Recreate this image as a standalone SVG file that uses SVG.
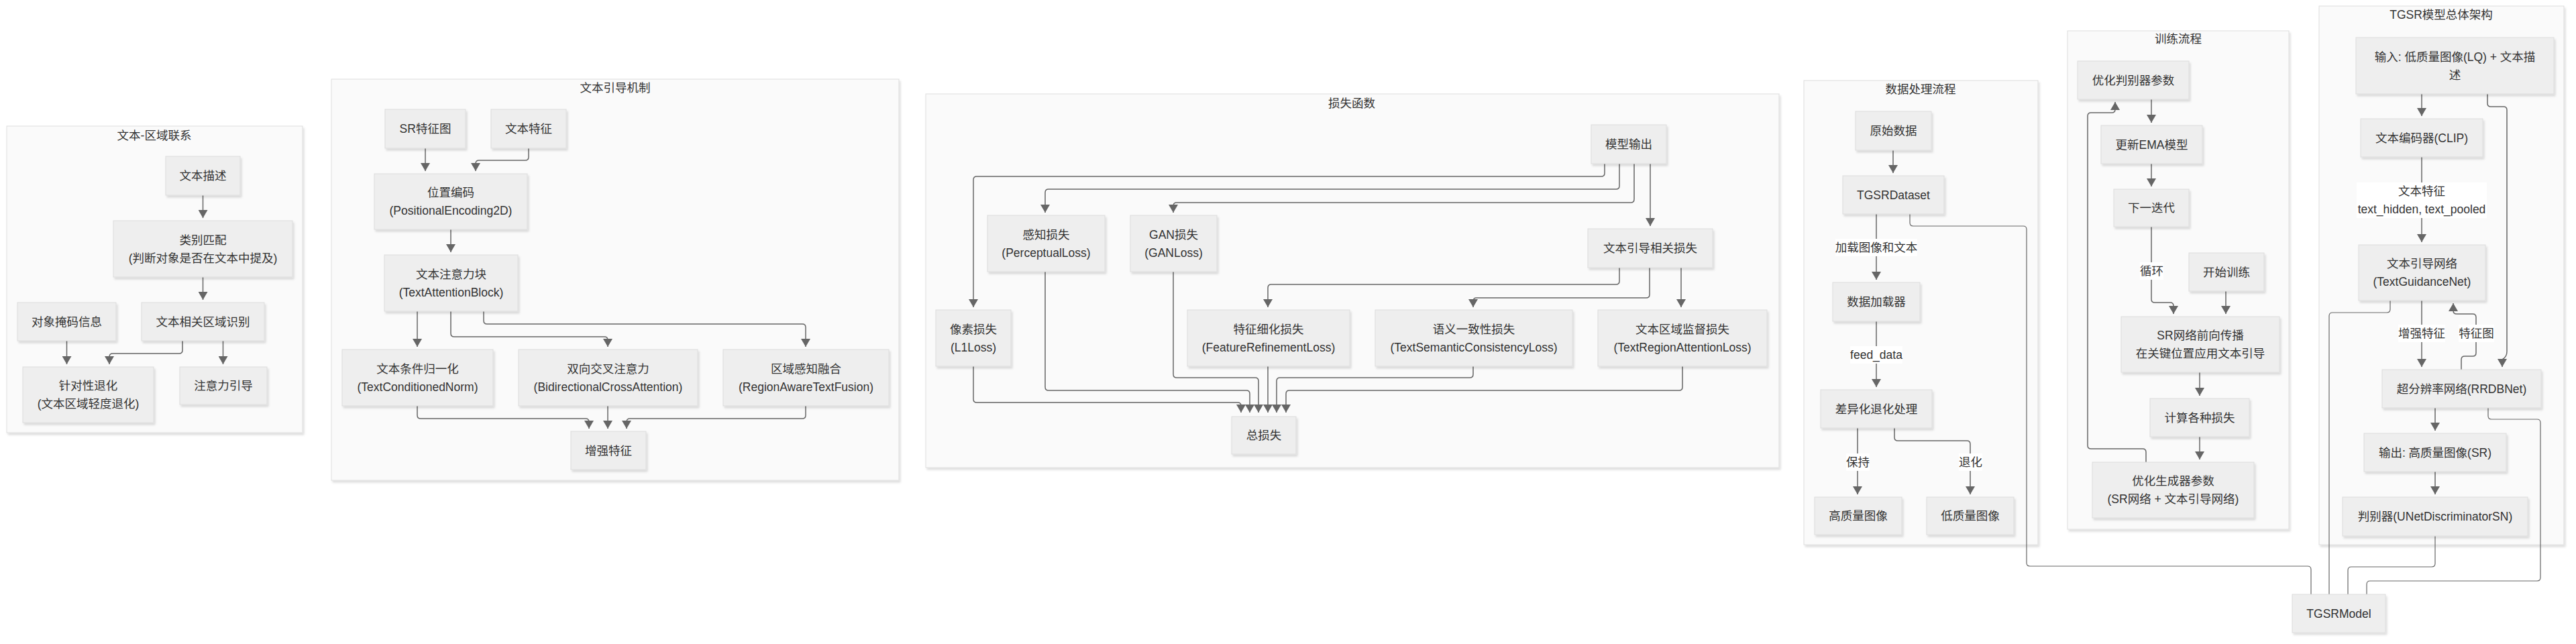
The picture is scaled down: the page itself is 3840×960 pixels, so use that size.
<svg xmlns="http://www.w3.org/2000/svg" width="3840" height="960" viewBox="0 0 3840 960">
<defs>
<filter id="sh" x="-10%" y="-10%" width="130%" height="140%">
<feDropShadow dx="2" dy="3" stdDeviation="1.5" flood-color="#000" flood-opacity="0.13"/>
</filter>
<marker id="ah" viewBox="0 0 12 14" refX="12" refY="7" markerWidth="12" markerHeight="14" markerUnits="userSpaceOnUse" orient="auto">
<path d="M0,0 L12,7 L0,14 z" fill="#666"/>
</marker>
<style>
.c{fill:#fafafa;stroke:#dddddd;stroke-width:1;filter:url(#sh)}
.n rect{fill:#eeeeee;stroke:#dcdcdc;stroke-width:1;filter:url(#sh)}
text{font-family:"Liberation Sans","Noto Sans CJK SC",sans-serif;font-size:17.5px;fill:#333;text-anchor:middle;dominant-baseline:central}
.e{fill:none;stroke:#666;stroke-width:1.5;marker-end:url(#ah)}
.l{fill:none;stroke:#666;stroke-width:1.2}
.lb{fill:#ffffff}
</style>
</defs>
<rect width="3840" height="960" fill="#ffffff"/>

<!-- clusters -->
<g id="clusters">
<g id="cluster-text-region"><rect class="c" x="10" y="188" width="441" height="457"/><text x="230" y="202">文本-区域联系</text></g>
<g id="cluster-text-guidance"><rect class="c" x="494" y="118" width="846" height="598"/><text x="917" y="131">文本引导机制</text></g>
<g id="cluster-loss"><rect class="c" x="1380" y="140" width="1272" height="557"/><text x="2015" y="154">损失函数</text></g>
<g id="cluster-data"><rect class="c" x="2689" y="120" width="349" height="692"/><text x="2863" y="133">数据处理流程</text></g>
<g id="cluster-train"><rect class="c" x="3082" y="46" width="330" height="743"/><text x="3247" y="58">训练流程</text></g>
<g id="cluster-arch"><rect class="c" x="3457" y="9" width="365" height="803"/><text x="3639" y="22">TGSR模型总体架构</text></g>
</g>

<!-- connectors -->
<g id="connectors">
<!-- text-region -->
<path class="e" d="M302.5,291 V325"/>
<path class="e" d="M302.5,413 V447"/>
<path class="e" d="M99.5,508 V543"/>
<path class="e" d="M272,508 V522 Q272,527 267,527 H168 Q163,527 163,532 V543"/>
<path class="e" d="M332.5,508 V543"/>
<!-- text guidance -->
<path class="e" d="M634,221 V255"/>
<path class="e" d="M788,221 V234 Q788,239 783,239 H714 Q709,239 709,244 V255"/>
<path class="e" d="M672,342 V376"/>
<path class="e" d="M622,464 V517"/>
<path class="e" d="M672,464 V497 Q672,502 677,502 H901 Q906,502 906,507 V517"/>
<path class="e" d="M721,464 V478 Q721,483 726,483 H1196 Q1201,483 1201,488 V517"/>
<path class="e" d="M622,605 V619 Q622,624 627,624 H873 Q878,624 878,629 V639"/>
<path class="e" d="M906,605 V639"/>
<path class="e" d="M1201,605 V619 Q1201,624 1196,624 H939 Q934,624 934,629 V639"/>
<!-- loss -->
<path class="e" d="M2392,244 V258 Q2392,263 2387,263 H1456 Q1451,263 1451,268 V458"/>
<path class="e" d="M2414,244 V277 Q2414,282 2409,282 H1563 Q1558,282 1558,287 V317"/>
<path class="e" d="M2436,244 V297 Q2436,302 2431,302 H1754 Q1749,302 1749,307 V317"/>
<path class="e" d="M2460,244 V337"/>
<path class="e" d="M2414,399 V419 Q2414,424 2409,424 H1895 Q1890,424 1890,429 V458"/>
<path class="e" d="M2459,399 V439 Q2459,444 2454,444 H2201 Q2196,444 2196,449 V458"/>
<path class="e" d="M2506,399 V458"/>
<path class="e" d="M1451,546 V595 Q1451,600 1456,600 H1845 Q1850,600 1850,605 V615"/>
<path class="e" d="M1558,405 V577 Q1558,582 1563,582 H1858 Q1863,582 1863,587 V615"/>
<path class="e" d="M1749,405 V558 Q1749,563 1754,563 H1871 Q1876,563 1876,568 V615"/>
<path class="e" d="M1890,546 V615"/>
<path class="e" d="M2196,546 V558 Q2196,563 2191,563 H1908 Q1903,563 1903,568 V615"/>
<path class="e" d="M2508,546 V577 Q2508,582 2503,582 H1922 Q1917,582 1917,587 V615"/>
<!-- data -->
<path class="e" d="M2822,224 V258"/>
<path class="e" d="M2797,319 V417"/>
<path class="e" d="M2797,479 V577"/>
<path class="e" d="M2769,638 V737"/>
<path class="e" d="M2824,638 V652 Q2824,657 2829,657 H2932 Q2937,657 2937,662 V737"/>
<path class="l" d="M2847,319 V332 Q2847,337 2852,337 H3016 Q3021,337 3021,342 V839 Q3021,844 3026,844 H3440 Q3445,844 3445,849 V886"/>
<!-- training -->
<path class="e" d="M3207,148 V183"/>
<path class="e" d="M3207,244 V278"/>
<path class="e" d="M3207,338 V446 Q3207,451 3212,451 H3235 Q3240,451 3240,456 V468"/>
<path class="e" d="M3318,434 V468"/>
<path class="e" d="M3279,555 V590"/>
<path class="e" d="M3279,651 V685"/>
<path class="e" d="M3199,689 V674 Q3199,669 3194,669 H3117 Q3112,669 3112,664 V173 Q3112,168 3117,168 H3148 Q3153,168 3153,163 V152"/>
<!-- architecture -->
<path class="e" d="M3610,140 V173"/>
<path class="e" d="M3610,234 V361"/>
<path class="e" d="M3610,448 V547"/>
<path class="e" d="M3669,551 V536 Q3669,531 3674,531 H3686 Q3691,531 3691,526 V473 Q3691,468 3686,468 H3662 Q3657,468 3657,463 V452"/>
<path class="e" d="M3708,140 V154 Q3708,159 3713,159 H3732 Q3737,159 3737,164 V524 Q3737,532 3730,536 V547"/>
<path class="e" d="M3630,608 V642"/>
<path class="e" d="M3630,703 V737"/>
<path class="l" d="M3630,799 V840 Q3630,845 3625,845 H3505 Q3500,845 3500,850 V886"/>
<path class="l" d="M3709,608 V620 Q3709,625 3714,625 H3782 Q3787,625 3787,630 V861 Q3787,866 3782,866 H3533 Q3528,866 3528,871 V886"/>
<path class="l" d="M3563,448 V461 Q3563,466 3558,466 H3477 Q3472,466 3472,471 V886"/>
<!-- edge labels -->
<g id="edge-labels">
<rect class="lb" x="2736" y="356" width="122" height="26"/><text x="2797" y="369">加载图像和文本</text>
<rect class="lb" x="2758" y="516" width="78" height="26"/><text x="2797" y="529">feed_data</text>
<rect class="lb" x="2752" y="676" width="35" height="26"/><text x="2769.5" y="689">保持</text>
<rect class="lb" x="2920" y="676" width="35" height="26"/><text x="2937.5" y="689">退化</text>
<rect class="lb" x="3190" y="391" width="35" height="26"/><text x="3207.5" y="404">循环</text>
<rect class="lb" x="3513" y="272" width="194" height="53"/><text x="3610" y="285">文本特征</text><text x="3610" y="312">text_hidden, text_pooled</text>
<rect class="lb" x="3575" y="484" width="70" height="26"/><text x="3610" y="497">增强特征</text>
<rect class="lb" x="3665" y="484" width="53" height="26"/><text x="3691.5" y="497">特征图</text>
</g>
</g>

<!-- nodes: text-region -->
<g id="n-wbms" class="n"><rect x="247" y="233" width="111" height="58"/><text x="302.5" y="262">文本描述</text></g>
<g id="n-lbpp" class="n"><rect x="169" y="329" width="267" height="84"/><text x="302.5" y="357.5">类别匹配</text><text x="302.5" y="384.5">(判断对象是否在文本中提及)</text></g>
<g id="n-dxym" class="n"><rect x="26" y="451" width="147" height="57"/><text x="99.5" y="479.5">对象掩码信息</text></g>
<g id="n-wbxg" class="n"><rect x="211" y="451" width="183" height="57"/><text x="302.5" y="479.5">文本相关区域识别</text></g>
<g id="n-zdxth" class="n"><rect x="34" y="547" width="195" height="83"/><text x="131.5" y="575">针对性退化</text><text x="131.5" y="602">(文本区域轻度退化)</text></g>
<g id="n-zyly" class="n"><rect x="268" y="547" width="130" height="56"/><text x="333" y="575">注意力引导</text></g>

<!-- nodes: text guidance -->
<g id="n-srtz" class="n"><rect x="574" y="163" width="120" height="58"/><text x="634" y="192">SR特征图</text></g>
<g id="n-wbtz" class="n"><rect x="732" y="163" width="112" height="58"/><text x="788" y="192">文本特征</text></g>
<g id="n-wzbm" class="n"><rect x="558" y="259" width="228" height="83"/><text x="672" y="287">位置编码</text><text x="672" y="314">(PositionalEncoding2D)</text></g>
<g id="n-tab" class="n"><rect x="573" y="380" width="199" height="84"/><text x="672.5" y="408.5">文本注意力块</text><text x="672.5" y="435.5">(TextAttentionBlock)</text></g>
<g id="n-tcn" class="n"><rect x="510" y="521" width="225" height="84"/><text x="622.5" y="549.5">文本条件归一化</text><text x="622.5" y="576.5">(TextConditionedNorm)</text></g>
<g id="n-bca" class="n"><rect x="773" y="521" width="267" height="84"/><text x="906.5" y="549.5">双向交叉注意力</text><text x="906.5" y="576.5">(BidirectionalCrossAttention)</text></g>
<g id="n-ratf" class="n"><rect x="1078" y="521" width="247" height="84"/><text x="1201.5" y="549.5">区域感知融合</text><text x="1201.5" y="576.5">(RegionAwareTextFusion)</text></g>
<g id="n-zqtz" class="n"><rect x="851" y="643" width="112" height="57"/><text x="907" y="671.5">增强特征</text></g>

<!-- nodes: loss -->
<g id="n-mxsc" class="n"><rect x="2372" y="186" width="112" height="58"/><text x="2428" y="215">模型输出</text></g>
<g id="n-perc" class="n"><rect x="1472" y="321" width="175" height="84"/><text x="1559.5" y="349.5">感知损失</text><text x="1559.5" y="376.5">(PerceptualLoss)</text></g>
<g id="n-gan" class="n"><rect x="1685" y="321" width="129" height="84"/><text x="1749.5" y="349.5">GAN损失</text><text x="1749.5" y="376.5">(GANLoss)</text></g>
<g id="n-wbyd" class="n"><rect x="2367" y="341" width="186" height="58"/><text x="2460" y="370">文本引导相关损失</text></g>
<g id="n-l1" class="n"><rect x="1395" y="462" width="112" height="84"/><text x="1451" y="490.5">像素损失</text><text x="1451" y="517.5">(L1Loss)</text></g>
<g id="n-frl" class="n"><rect x="1770" y="462" width="242" height="84"/><text x="1891" y="490.5">特征细化损失</text><text x="1891" y="517.5">(FeatureRefinementLoss)</text></g>
<g id="n-tscl" class="n"><rect x="2050" y="462" width="294" height="84"/><text x="2197" y="490.5">语义一致性损失</text><text x="2197" y="517.5">(TextSemanticConsistencyLoss)</text></g>
<g id="n-tral" class="n"><rect x="2382" y="462" width="252" height="84"/><text x="2508" y="490.5">文本区域监督损失</text><text x="2508" y="517.5">(TextRegionAttentionLoss)</text></g>
<g id="n-zss" class="n"><rect x="1836" y="621" width="96" height="56"/><text x="1884" y="649">总损失</text></g>

<!-- nodes: data -->
<g id="n-yssj" class="n"><rect x="2766" y="166" width="113" height="58"/><text x="2822.5" y="195">原始数据</text></g>
<g id="n-ds" class="n"><rect x="2747" y="262" width="151" height="57"/><text x="2822.5" y="290.5">TGSRDataset</text></g>
<g id="n-sjjz" class="n"><rect x="2732" y="421" width="130" height="58"/><text x="2797" y="450">数据加载器</text></g>
<g id="n-cyh" class="n"><rect x="2714" y="581" width="166" height="57"/><text x="2797" y="609.5">差异化退化处理</text></g>
<g id="n-gzl" class="n"><rect x="2705" y="741" width="130" height="56"/><text x="2770" y="769">高质量图像</text></g>
<g id="n-dzl" class="n"><rect x="2872" y="741" width="130" height="56"/><text x="2937" y="769">低质量图像</text></g>

<!-- nodes: training -->
<g id="n-yhpb" class="n"><rect x="3097" y="91" width="166" height="57"/><text x="3180" y="119.5">优化判别器参数</text></g>
<g id="n-ema" class="n"><rect x="3132" y="187" width="151" height="57"/><text x="3207.5" y="215.5">更新EMA模型</text></g>
<g id="n-xydd" class="n"><rect x="3151" y="282" width="112" height="56"/><text x="3207" y="310">下一迭代</text></g>
<g id="n-ksxl" class="n"><rect x="3263" y="377" width="112" height="57"/><text x="3319" y="405.5">开始训练</text></g>
<g id="n-srqx" class="n"><rect x="3162" y="472" width="236" height="83"/><text x="3280" y="500">SR网络前向传播</text><text x="3280" y="527">在关键位置应用文本引导</text></g>
<g id="n-jsss" class="n"><rect x="3205" y="594" width="148" height="57"/><text x="3279" y="622.5">计算各种损失</text></g>
<g id="n-yhsc" class="n"><rect x="3119" y="689" width="241" height="83"/><text x="3239.5" y="717">优化生成器参数</text><text x="3239.5" y="744">(SR网络 + 文本引导网络)</text></g>

<!-- nodes: architecture -->
<g id="n-input" class="n"><rect x="3512" y="56" width="295" height="84"/><text x="3659.5" y="84.5">输入: 低质量图像(LQ) + 文本描</text><text x="3659.5" y="111.5">述</text></g>
<g id="n-clip" class="n"><rect x="3519" y="177" width="182" height="57"/><text x="3610" y="205.5">文本编码器(CLIP)</text></g>
<g id="n-tgn" class="n"><rect x="3516" y="365" width="189" height="83"/><text x="3610.5" y="393">文本引导网络</text><text x="3610.5" y="420">(TextGuidanceNet)</text></g>
<g id="n-rrdb" class="n"><rect x="3551" y="551" width="237" height="57"/><text x="3669.5" y="579.5">超分辨率网络(RRDBNet)</text></g>
<g id="n-out" class="n"><rect x="3524" y="646" width="212" height="57"/><text x="3630" y="674.5">输出: 高质量图像(SR)</text></g>
<g id="n-disc" class="n"><rect x="3492" y="741" width="276" height="58"/><text x="3630" y="770">判别器(UNetDiscriminatorSN)</text></g>
<g id="n-model" class="n"><rect x="3417" y="886" width="139" height="57"/><text x="3486.5" y="914.5">TGSRModel</text></g>
</svg>
